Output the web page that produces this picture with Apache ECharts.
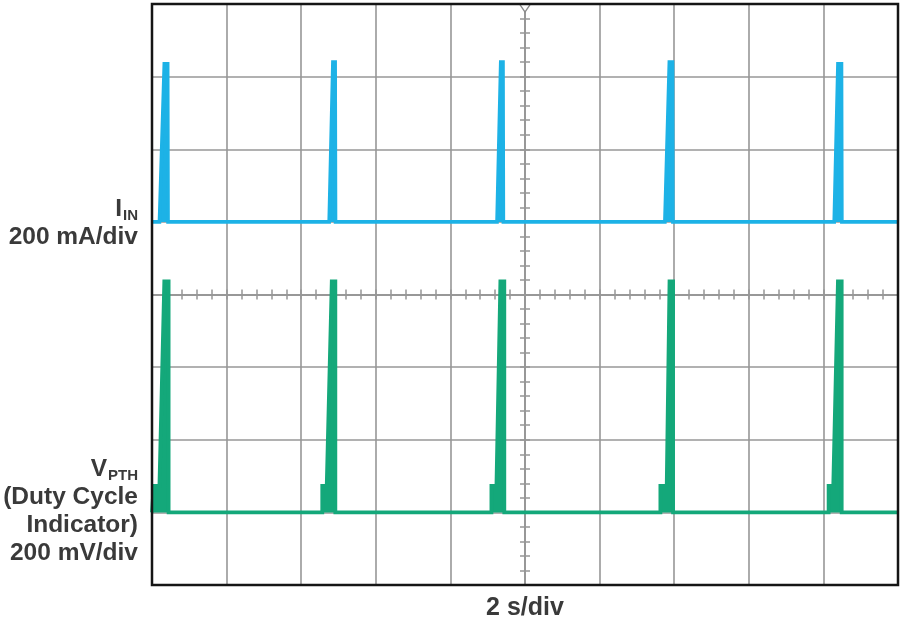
<!DOCTYPE html>
<html>
<head>
<meta charset="utf-8">
<script src="https://cdn.jsdelivr.net/npm/echarts@6/dist/echarts.min.js"></script>
<style>
  html, body { margin: 0; padding: 0; background: #ffffff; }
  #chart { width: 900px; height: 622px; }
</style>
</head>
<body>
<div id="chart"></div>
<script>
// ---- Time axis (seconds), 2 s/div, 10 divisions ----
const timeMin = 0;
const timeMax = 20;
const timeDiv = 2;
const timeMinorStep = 0.4;
const timeAxisName = '2 s/div';

// ---- I_IN (mA), 200 mA/div, zero at 5th division from bottom ----
const iinMin = -1000;
const iinMax = 600;
const iinDiv = 200;
const iinMinorStep = 40;
const iinTimes  = [0, 0.20, 0.33, 0.42, 0.43, 4.75, 4.85, 4.91, 4.92, 9.25, 9.35, 9.41, 9.42, 13.75, 13.87, 13.955, 13.965, 18.29, 18.39, 18.485, 18.495, 20];
const iinValues = [0, 0,    435,  435,  0,    0,    440,  440,  0,    0,    440,  440,  0,    0,     440,   440,    0,      0,     435,   435,    0,      0];
const iinLabel = ['I', 'IN', '200 mA/div'];

// ---- V_PTH (mV), 200 mV/div, zero at 1st division from bottom ----
const vpthMin = -200;
const vpthMax = 1400;
const vpthDiv = 200;
const vpthTimes  = [0, 0.045, 0.045, 0.20, 0.33, 0.445, 0.445, 4.565, 4.565, 4.685, 4.82, 4.915, 4.915, 9.10, 9.10, 9.235, 9.34, 9.445, 9.445, 13.63, 13.63, 13.80, 13.875, 13.97, 13.97, 18.14, 18.14, 18.265, 18.39, 18.49, 18.49, 20];
const vpthValues = [0, 0,     73,    73,   636,  636,   0,     0,     73,    73,    636,  636,   0,     0,    73,   73,    636,  636,   0,     0,     73,    73,    636,    636,   0,     0,     73,    73,     636,   636,   0,     0];
const vpthLabel = ['V', 'PTH', '(Duty Cycle', 'Indicator)', '200 mV/div'];

const triggerTime = 10;

// ---- styles ----
const gridColor = '#979797';
const textColor = '#3a3a3a';
const blue = '#1db2e6';
const green = '#14a87a';
const font = '"Liberation Sans", Arial, sans-serif';

const GRID = { left: 152, top: 4, width: 746, height: 581 };

const zip = (xs, ys) => xs.map((x, i) => [x, ys[i]]);

const rich = {
  m: { fontSize: 24.5, fontWeight: 'bold', color: textColor, fontFamily: font, lineHeight: 28 },
  s: { fontSize: 15, fontWeight: 'bold', color: textColor, fontFamily: font, lineHeight: 28, verticalAlign: 'bottom', padding: [0, 0, 0, 1] }
};

function tickAxisX(inside) {
  return {
    type: 'value', gridIndex: 0, min: timeMin, max: timeMax, interval: timeMinorStep,
    position: 'bottom', offset: -GRID.height / 2,
    axisLine: { show: true, lineStyle: { color: gridColor, width: 1.6 } },
    axisTick: { show: true, inside: inside, length: 5, lineStyle: { color: gridColor, width: 1.5 } },
    axisLabel: { show: false }, splitLine: { show: false }
  };
}
function tickAxisY(inside) {
  return {
    type: 'value', gridIndex: 0, min: iinMin, max: iinMax, interval: iinMinorStep,
    position: 'left', offset: -GRID.width / 2,
    axisLine: { show: true, lineStyle: { color: gridColor, width: 1.6 } },
    axisTick: { show: true, inside: inside, length: 5, lineStyle: { color: gridColor, width: 1.5 } },
    axisLabel: { show: false }, splitLine: { show: false }
  };
}

const chart = echarts.init(document.getElementById('chart'), null, { renderer: 'canvas' });
chart.setOption({
  backgroundColor: '#ffffff',
  animation: false,
  title: [
    {
      text: '{m|' + iinLabel[0] + '}{s|' + iinLabel[1] + '}\n{m|' + iinLabel[2] + '}',
      left: 138, top: 195, padding: 0, textAlign: 'right',
      textStyle: { rich: rich }
    },
    {
      text: '{m|' + vpthLabel[0] + '}{s|' + vpthLabel[1] + '}\n{m|' + vpthLabel[2] + '}\n{m|' + vpthLabel[3] + '}\n{m|' + vpthLabel[4] + '}',
      left: 138, top: 455, padding: 0, textAlign: 'right',
      textStyle: { rich: rich }
    }
  ],
  grid: {
    left: GRID.left, top: GRID.top, width: GRID.width, height: GRID.height,
    outerBoundsMode: 'none', containLabel: false,
    show: true, borderColor: '#151515', borderWidth: 2.5, backgroundColor: 'transparent', z: 10
  },
  xAxis: [
    {
      type: 'value', min: timeMin, max: timeMax, interval: timeDiv,
      name: timeAxisName, nameLocation: 'middle', nameGap: 11,
      nameTextStyle: { fontSize: 25, fontWeight: 'bold', color: textColor, fontFamily: font, verticalAlign: 'top' },
      axisLine: { show: false }, axisTick: { show: false }, axisLabel: { show: false },
      splitLine: { show: true, showMinLine: false, showMaxLine: false, lineStyle: { color: gridColor, width: 1.6 } }
    },
    tickAxisX(true),
    tickAxisX(false)
  ],
  yAxis: [
    {
      type: 'value', min: iinMin, max: iinMax, interval: iinDiv,
      axisLine: { show: false }, axisTick: { show: false }, axisLabel: { show: false },
      splitLine: { show: true, showMinLine: false, showMaxLine: false, lineStyle: { color: gridColor, width: 1.6 } }
    },
    {
      type: 'value', min: vpthMin, max: vpthMax, interval: vpthDiv, position: 'right',
      axisLine: { show: false }, axisTick: { show: false }, axisLabel: { show: false },
      splitLine: { show: false }
    },
    tickAxisY(true),
    tickAxisY(false)
  ],
  series: [
    {
      name: 'IIN', type: 'line', xAxisIndex: 0, yAxisIndex: 0,
      data: zip(iinTimes, iinValues), showSymbol: false, symbol: 'none',
      lineStyle: { color: blue, width: 3.6, join: 'miter', cap: 'butt' },
      areaStyle: { color: blue, opacity: 1, origin: 0 },
      z: 5,
      markPoint: {
        silent: true,
        symbol: 'path://M0,0 L12,0 L6,9 Z',
        symbolSize: [11, 8], symbolOffset: [0, '50%'],
        itemStyle: { color: '#ffffff', borderColor: '#8a8a8a', borderWidth: 1.2 },
        label: { show: false },
        data: [{ coord: [triggerTime, iinMax] }]
      }
    },
    {
      name: 'VPTH', type: 'line', xAxisIndex: 0, yAxisIndex: 1,
      data: zip(vpthTimes, vpthValues), showSymbol: false, symbol: 'none',
      lineStyle: { color: green, width: 3.8, join: 'miter', cap: 'butt' },
      areaStyle: { color: green, opacity: 1, origin: 0 },
      z: 5
    }
  ]
});
</script>
</body>
</html>
